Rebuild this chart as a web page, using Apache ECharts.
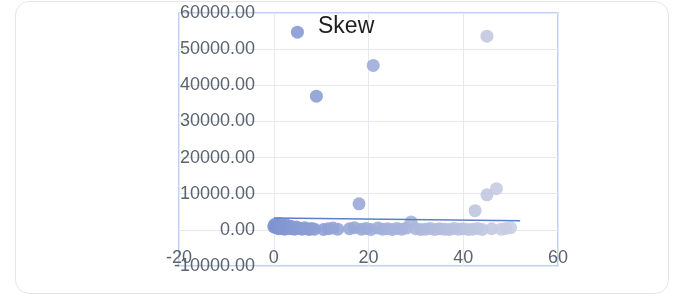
<!DOCTYPE html>
<html style="height: 100%">
<head>
    <meta charset="utf-8">
</head>
<body style="height: 100%; margin: 0; background: #fff">
<div style="position:absolute; left:15px; top:1px; width:652px; height:291px; border:1px solid #e4e6ea; border-radius:14px;"></div>
<div id="container" style="position:absolute; left:0; top:0; width:673px; height:297px"></div>
<script src="https://cdn.jsdelivr.net/npm/echarts@6/dist/echarts.min.js"></script>
<script type="text/javascript">
    // 数据
    var xVals = [0, 0.2, 0.4, 0.7, 1, 1.2, 1.5, 1.8, 2, 2.3, 2.6, 3, 3.3, 3.6, 4, 4.4, 4.8, 5, 5.5, 6, 6.5, 7, 7.5, 8, 8.6,
        9, 10.5, 11.5, 12.5, 13.5, 16, 17, 18, 18.5, 19.5, 20.5, 21, 22, 23, 24, 25, 26, 27, 28, 29, 30, 31, 32, 33,
        34, 35, 36, 37, 38, 39, 40, 41, 42, 42.5, 43, 44, 45, 45, 46, 47, 48, 49, 50];
    var yVals = [900, 1500, 600, 1300, 300, 1700, 800, 400, 1100, 200, 1400, 700, 300, 1000, 500, 200, 800, 54700, 400, 200, 600, 300, 100, 400, 200,
        37000, 100, 300, 500, 200, 300, 600, 7200, 200, 400, 100, 45500, 500, 200, 300, 100, 400, 200, 500, 2200, 300, 100, 200, 400,
        100, 300, 200, 100, 400, 200, 300, 100, 200, 5300, 400, 100, 9700, 53600, 300, 11400, 200, 400, 600];
    var trendX = [0, 52];
    var trendY = [3300, 2500];
    var xTicks = [-20, 0, 20, 40, 60];
    var yTicks = [-10000, 0, 10000, 20000, 30000, 40000, 50000, 60000];

    var points = [];
    for (var i = 0; i < xVals.length; i++) {
        points.push([xVals[i], yVals[i]]);
    }
    var trend = [];
    for (var j = 0; j < trendX.length; j++) {
        trend.push([trendX[j], trendY[j]]);
    }

    var dom = document.getElementById("container");
    var myChart = echarts.init(dom, null, {renderer: 'canvas'});
    // 轴在0处交叉（Excel 风格），用 offset 把轴线/标签挪到 0 的位置
    var option = {
        animation: false,
        title: {
            text: 'Skew',
            left: 313,
            top: 10,
            textStyle: {fontSize: 23, fontWeight: 'normal', color: '#1e1e1e', fontFamily: 'Liberation Sans'}
        },
        grid: {
            left: 179, right: 115, top: 13, bottom: 31,
            show: true,
            borderColor: '#a6c6ea',
            borderWidth: 1.5
        },
        visualMap: {
            show: false,
            dimension: 0,
            seriesIndex: 0,
            min: 0,
            max: 50,
            inRange: {color: ['#7f94d2', '#c9cee2']}
        },
        xAxis: {
            type: 'value',
            min: xTicks[0],
            max: xTicks[xTicks.length - 1],
            interval: 20,
            position: 'bottom',
            offset: -36,
            axisLine: {onZero: false, lineStyle: {color: '#e6e9ef'}},
            axisTick: {show: false},
            splitLine: {lineStyle: {color: '#e6e9ef'}},
            axisLabel: {
                margin: 19,
                color: '#5b6470',
                fontSize: 18,
                fontFamily: 'Liberation Sans'
            }
        },
        yAxis: {
            type: 'value',
            min: yTicks[0],
            max: yTicks[yTicks.length - 1],
            interval: 10000,
            position: 'left',
            offset: -95,
            axisLine: {onZero: false, lineStyle: {color: '#e6e9ef'}},
            axisTick: {show: false},
            splitLine: {lineStyle: {color: '#e6e9ef'}},
            axisLabel: {
                margin: 19,
                color: '#5b6470',
                fontSize: 18,
                fontFamily: 'Liberation Sans',
                formatter: function (v) { return v.toFixed(2); }
            }
        },
        series: [
            {
                type: 'scatter',
                data: points,
                symbolSize: 13,
                itemStyle: {opacity: 0.9}
            },
            {
                type: 'line',
                data: trend,
                symbol: 'none',
                lineStyle: {color: '#5a7fcc', width: 1.5}
            }
        ]
    };
    myChart.setOption(option);
</script>
</body>
</html>
